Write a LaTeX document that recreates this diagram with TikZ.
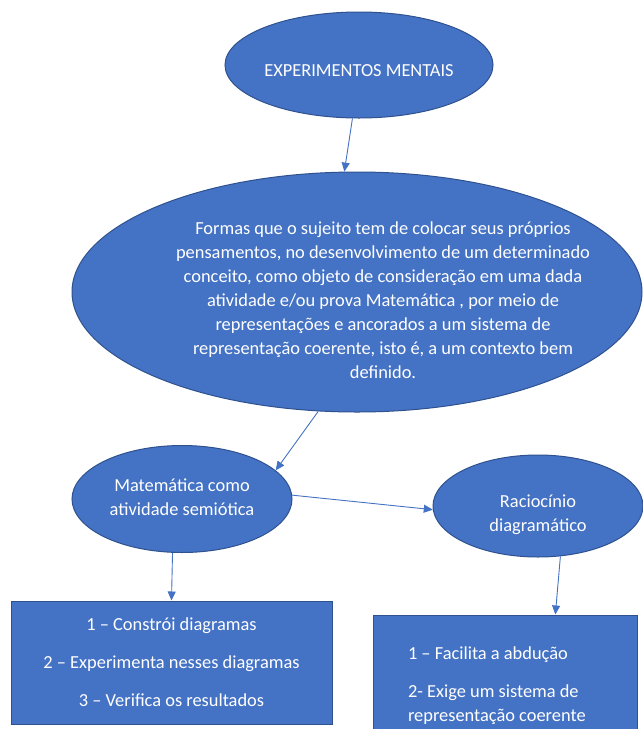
\documentclass[tikz,border=0pt]{standalone}
\usepackage{fontspec}
\setmainfont{Carlito}
\usetikzlibrary{shapes.geometric,arrows.meta,calc}
\definecolor{azul}{HTML}{4472C4}
\definecolor{azulesc}{HTML}{2F528F}
\tikzset{
 bolha/.style={ellipse, draw=azulesc, fill=azul, line width=1pt, text=white, inner sep=0pt},
 caixa/.style={rectangle, draw=azulesc, fill=azul, line width=1pt, text=white, inner sep=0pt},
 seta/.style={draw=azul, line width=0.9pt, -{Triangle[length=9pt,width=8pt]}},
}
\newcommand{\elipse}[7]{% nome, x, y, largura, altura, descida do texto, texto
\node[bolha, minimum width=#4pt, minimum height=#5pt] (#1) at (#2,#3) {\raisebox{-#6pt}[0pt][0pt]{\makebox[0pt]{\begin{tabular}{@{}c@{}}#7\end{tabular}}}};
}
\newcommand{\seta}[2]{% de, para
\draw[seta] (#1)--(#2);
}
\begin{document}
\begin{tikzpicture}[x=1pt, y=-1pt, font=\fontsize{18.4}{24}\selectfont]
\useasboundingbox (0,0) rectangle (643,729);
\clip (0,0) rectangle (643,729);
\fill[white] (0,0) rectangle (643,729);

\elipse{exp}{359}{65}{268}{106}{10.6}{EXPERIMENTOS MENTAIS}
\node[bolha, minimum width=570pt, minimum height=240pt] (formas) at (357,292) {};
\node[text=white, align=center] (formastxt) at (383,300) {Formas que o sujeito tem de colocar seus próprios\\
pensamentos, no desenvolvimento de um determinado\\
conceito, como objeto de consideração em uma dada\\
atividade e/ou prova Matemática , por meio de\\
representações e ancorados a um sistema de\\
representação coerente, isto é, a um contexto bem\\
definido.};
\elipse{mat}{182}{499}{220}{107}{3.6}{Matemática como\\atividade semiótica}
\elipse{rac}{538}{506}{210}{102}{12.6}{Raciocínio\\diagramático}

\node[caixa, minimum width=321pt, minimum height=123pt, align=center,
 font=\fontsize{18.4}{38}\selectfont] (passos) at (171.5,662.5)
 {1 – Constrói diagramas\\2 – Experimenta nesses diagramas\\3 – Verifica os resultados};
\node[caixa, minimum width=264pt, minimum height=142pt, text width=194pt, inner xsep=35pt,
 align=flush left] (efeitos) at (505,686)
 {1 – Facilita a abdução\\[14pt]2- Exige um sistema de\\representação coerente};

\seta{exp.263}{formas.96}
\seta{formas.252}{mat.17}
\seta{mat.2}{rac.182}
\seta{mat.260}{passos.north}
\draw[seta] (rac.294)--($(efeitos.north west)!0.69!(efeitos.north east)$);
\end{tikzpicture}
\end{document}
